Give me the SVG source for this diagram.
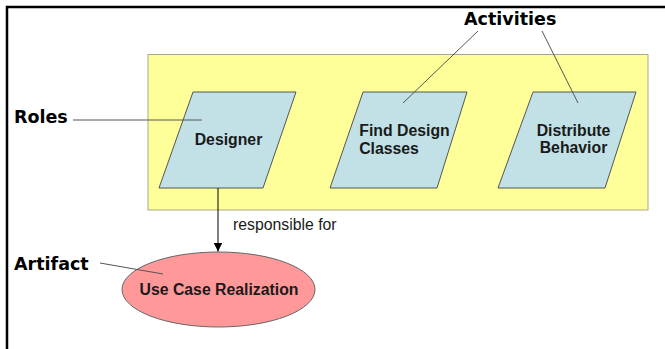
<svg xmlns="http://www.w3.org/2000/svg" width="665" height="349" viewBox="0 0 665 349">
<style>
.label{font-family:"DejaVu Sans",Verdana,sans-serif;font-weight:bold;font-size:17.5px;fill:#000}
.node{font-family:"Liberation Sans",Arial,sans-serif;font-weight:bold;font-size:15.8px;fill:#1a1a1a;text-anchor:middle}
.para{fill:#C1E1E7;stroke:#555;stroke-width:1}
.lead{stroke:#555;stroke-width:1;fill:none}
</style>
<defs>
<marker id="arrow" markerWidth="10" markerHeight="10" refX="9" refY="5" orient="auto" markerUnits="userSpaceOnUse">
<path d="M0,0.5 L9,5 L0,9.5 Z" fill="#000"/>
</marker>
</defs>
<rect width="665" height="349" fill="#fff"/>
<path d="M7,349 V7 H665" fill="none" stroke="#000" stroke-width="2.5"/>
<g id="activities-box">
<rect x="148" y="54.5" width="500" height="155.5" fill="#FFFF99" stroke="#A8A890" stroke-width="1"/>
</g>
<g id="designer">
<polygon class="para" points="193,92 296,92 263,188 159,188"/>
<text class="node" x="228.5" y="145">Designer</text>
</g>
<g id="find-design-classes">
<polygon class="para" points="363,92 467,92 437,188 330,188"/>
<text class="node" x="404.5" y="136">Find Design</text>
<text class="node" x="389" y="154">Classes</text>
</g>
<g id="distribute-behavior">
<polygon class="para" points="533,92 636,92 605,188 498,188"/>
<text class="node" x="573.5" y="136">Distribute</text>
<text class="node" x="573.5" y="153">Behavior</text>
</g>
<g id="use-case-realization">
<ellipse cx="218.5" cy="289.5" rx="96.5" ry="37.5" fill="#FF9999" stroke="#666" stroke-width="1"/>
<text class="node" x="219" y="295">Use Case Realization</text>
</g>
<g id="roles-label"><text class="label" x="14" y="123">Roles</text></g>
<g id="activities-label"><text class="label" x="464" y="25">Activities</text></g>
<g id="artifact-label"><text class="label" x="14" y="270">Artifact</text></g>
<g id="connectors">
<line class="lead" x1="73" y1="120" x2="202" y2="120"/>
<line class="lead" x1="478" y1="31" x2="403" y2="103"/>
<line class="lead" x1="542" y1="31" x2="578" y2="103"/>
<line class="lead" x1="100" y1="263" x2="163" y2="274"/>
<line x1="218" y1="188" x2="218" y2="251.5" stroke="#000" stroke-width="1" marker-end="url(#arrow)"/>
<text x="233" y="230" font-family="Liberation Sans,Arial,sans-serif" font-size="15.8" fill="#1a1a1a">responsible for</text>
</g>
</svg>
